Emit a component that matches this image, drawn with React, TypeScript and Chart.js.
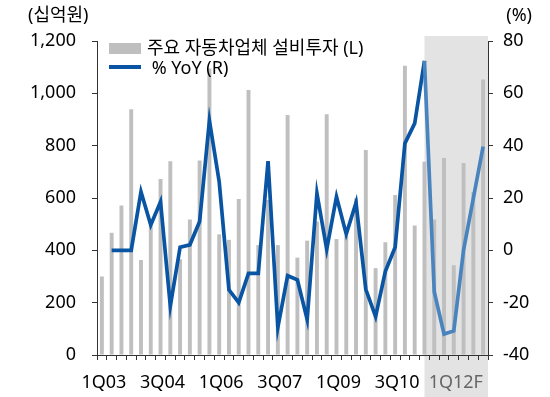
import { useEffect, useRef } from 'react';
import { Chart, registerables } from 'chart.js';

Chart.register(...registerables);

const FONT = '"Noto Sans", "Noto Sans CJK KR", sans-serif';

const categories = [
  '1Q03', '2Q03', '3Q03', '4Q03', '1Q04', '2Q04', '3Q04', '4Q04',
  '1Q05', '2Q05', '3Q05', '4Q05', '1Q06', '2Q06', '3Q06', '4Q06',
  '1Q07', '2Q07', '3Q07', '4Q07', '1Q08', '2Q08', '3Q08', '4Q08',
  '1Q09', '2Q09', '3Q09', '4Q09', '1Q10', '2Q10', '3Q10', '4Q10',
  '1Q11', '2Q11', '3Q11F', '4Q11F', '1Q12F', '2Q12F', '3Q12F', '4Q12F',
];

// 주요 자동차업체 설비투자 (십억원)
const capex = [
  300, 467, 571, 939, 363, 495, 673, 740,
  366, 518, 743, 1095, 461, 440, 596, 1013,
  420, 592, 420, 917, 372, 437, 510, 920,
  443, 455, 599, 783, 332, 431, 611, 1105,
  495, 739, 518, 753, 343, 734, 623, 1053,
];

// % YoY
const yoy = [
  null, 0, 0, 0, 22.4, 9.7, 18.6, -21.3,
  1.2, 2.1, 11, 49.6, 26.2, -15.1, -20, -8.8,
  -8.8, 34.1, -29.5, -9.7, -11.3, -26.4, 21.8, 0.4,
  20.5, 6.2, 18.2, -14.9, -25.3, -8, 1.2, 40.9,
  48.5, 72.4, -15.8, -32, -30.8, 0.1, 19.9, 39.6,
];

const forecastStart = 33;
const barLabel = '주요 자동차업체 설비투자 (L)';
const lineLabel = ' % YoY (R)';
const leftTitle = '(십억원)';
const rightTitle = '(%)';

const BAR_COLOR = '#bfbfbf';
const LINE_DARK = '#0955a3';
const LINE_LIGHT = '#4a84be';
const AXIS = '#333333';

export default function App() {
  const ref = useRef<HTMLCanvasElement>(null);

  useEffect(() => {
    if (!ref.current) return;
    const decor = {
      id: 'decor',
      beforeDraw(chart: any) {
        const { ctx, chartArea, scales } = chart;
        const x0 = scales.x.getPixelForValue(forecastStart);
        ctx.save();
        ctx.fillStyle = '#e3e3e3';
        ctx.fillRect(x0, 36, chartArea.right - x0, chart.height - 36);
        ctx.restore();
      },
      afterDraw(chart: any) {
        const { ctx, chartArea } = chart;
        ctx.save();
        ctx.font = `18px ${FONT}`;
        ctx.fillStyle = '#000';
        ctx.textBaseline = 'middle';
        ctx.textAlign = 'left';
        ctx.fillText(leftTitle, 28, 16);
        ctx.textAlign = 'right';
        ctx.fillText(rightTitle, 532, 16);
        // legend
        const lx = chartArea.left + 12;
        ctx.fillStyle = BAR_COLOR;
        ctx.fillRect(lx, 43, 32, 11);
        ctx.strokeStyle = LINE_DARK;
        ctx.lineWidth = 4;
        ctx.beginPath();
        ctx.moveTo(lx, 67);
        ctx.lineTo(lx + 32, 67);
        ctx.stroke();
        ctx.fillStyle = '#000';
        ctx.textAlign = 'left';
        ctx.fillText(barLabel, lx + 38, 49);
        ctx.fillText(lineLabel, lx + 38, 69);
        ctx.restore();
      },
    };

    const chart = new Chart(ref.current, {
      type: 'bar',
      data: {
        labels: categories,
        datasets: [
          {
            type: 'line',
            label: lineLabel,
            data: yoy,
            yAxisID: 'y1',
            borderColor: LINE_DARK,
            borderWidth: 3.7,
            pointRadius: 0,
            tension: 0,
            order: 0,
            segment: {
              borderColor: (c: any) => (c.p0DataIndex >= forecastStart ? LINE_LIGHT : LINE_DARK),
            },
          } as any,
          {
            type: 'bar',
            label: barLabel,
            data: capex,
            yAxisID: 'y',
            backgroundColor: BAR_COLOR,
            categoryPercentage: 1,
            barPercentage: 0.4,
            order: 1,
          },
        ],
      },
      options: {
        responsive: false,
        animation: false,
        layout: { padding: { top: 41, left: 0, right: 0, bottom: 0 } },
        plugins: { legend: { display: false }, tooltip: { enabled: false } },
        scales: {
          x: {
            type: 'category',
            grid: { offset: true, drawOnChartArea: false, tickLength: 5, tickColor: AXIS },
            border: { color: AXIS },
            ticks: {
              autoSkip: false,
              maxRotation: 0,
              padding: 12,
              labelOffset: 2,
              font: { family: FONT, size: 18 },
              color: (c: any) => (c.index > forecastStart ? '#666666' : '#000000'),
              callback: (_v: any, i: number) => (i % 6 === 0 ? categories[i] : ''),
            },
            afterFit: (s: any) => { s.height = 42; },
          },
          y: {
            position: 'left',
            min: 0,
            max: 1200,
            grid: { drawOnChartArea: false, tickLength: 5, tickColor: AXIS },
            border: { color: AXIS },
            ticks: {
              stepSize: 200,
              padding: 16,
              font: { family: FONT, size: 18 },
              color: '#000',
              callback: (v: any) => Number(v).toLocaleString('en-US'),
            },
            afterFit: (s: any) => { s.width = 97; },
          },
          y1: {
            position: 'right',
            min: -40,
            max: 80,
            grid: { drawOnChartArea: false, tickLength: 5, tickColor: AXIS },
            border: { color: AXIS },
            ticks: {
              stepSize: 20,
              padding: 10,
              font: { family: FONT, size: 18 },
              color: '#000',
            },
            afterFit: (s: any) => { s.width = 62; },
          },
        },
      },
      plugins: [decor],
    });
    return () => chart.destroy();
  }, []);

  return (
    <div style={{ position: 'fixed', left: 0, top: 0, width: 550, height: 397, background: '#fff' }}>
      <canvas ref={ref} width={550} height={397} />
    </div>
  );
}
